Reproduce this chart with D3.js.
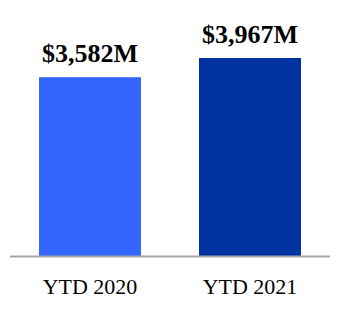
<!DOCTYPE html>
<html lang="en">
<head>
    <meta charset="UTF-8">
    <title>YTD Comparison</title>
    <style>
        body {
            margin: 0;
            padding: 0;
            background-color: #fff;
        }
        svg text {
            font-family: 'Liberation Serif', 'Times New Roman', serif;
        }
    </style>
    <script src="https://d3js.org/d3.v7.min.js"></script>
</head>
<body>
<div id="chart"></div>
<script>
    const categories = ["YTD 2020", "YTD 2021"];
    const values = [3582, 3967];
    const valueLabels = ["$3,582M", "$3,967M"];
    const barColors = ["#3366ff", "#0033a0"];

    const width = 340;
    const height = 310;
    const baseY = 256;

    const svg = d3.select("#chart")
        .append("svg")
        .attr("width", width)
        .attr("height", height);

    const x = d3.scaleBand()
        .domain(categories)
        .range([10, 330])
        .paddingInner(0.3625)
        .paddingOuter(0.18125);

    const y = d3.scaleLinear()
        .domain([0, 3967])
        .range([baseY, 58]);

    // bars
    svg.append("g")
        .selectAll("rect")
        .data(values)
        .enter().append("rect")
        .attr("x", function (d, i) { return x(categories[i]); })
        .attr("y", function (d) { return y(d); })
        .attr("width", x.bandwidth())
        .attr("height", function (d) { return baseY - y(d); })
        .attr("fill", function (d, i) { return barColors[i]; });

    // baseline
    svg.append("line")
        .attr("x1", 10)
        .attr("x2", 330)
        .attr("y1", baseY + 0.5)
        .attr("y2", baseY + 0.5)
        .attr("stroke", "#a6a6a6")
        .attr("stroke-width", 2);

    // value labels
    svg.append("g")
        .selectAll("text")
        .data(values)
        .enter().append("text")
        .attr("x", function (d, i) { return x(categories[i]) + x.bandwidth() / 2; })
        .attr("y", function (d) { return y(d) - 15; })
        .attr("text-anchor", "middle")
        .style("font-size", "26px")
        .style("font-weight", "bold")
        .text(function (d, i) { return valueLabels[i]; });

    // category axis
    const axis = svg.append("g")
        .attr("transform", "translate(0," + baseY + ")")
        .call(d3.axisBottom(x).tickSize(0).tickPadding(22));
    axis.select(".domain").remove();
    axis.selectAll("text")
        .style("font-size", "22px")
        .attr("fill", "#000");
</script>
</body>
</html>
